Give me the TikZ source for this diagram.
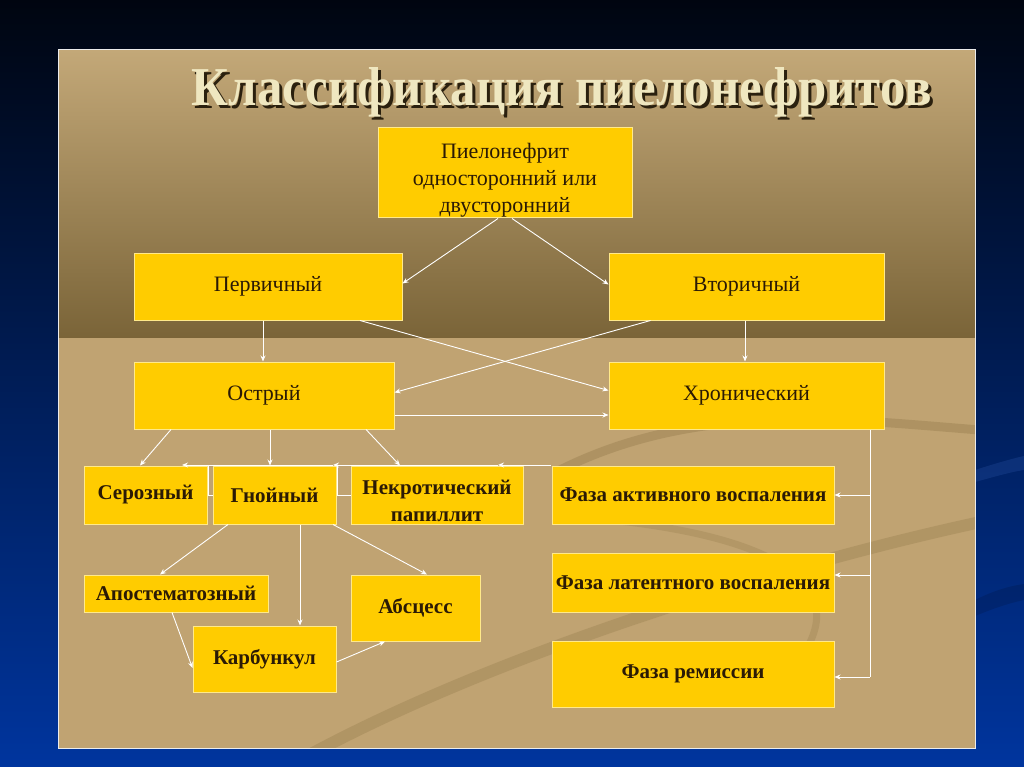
\documentclass[tikz,border=0pt]{standalone}
\usepackage{fontspec}
\usepackage{graphicx}
\setmainfont{Liberation Serif}
\usetikzlibrary{arrows.meta}
\definecolor{bgtop}{HTML}{000510}
\definecolor{bgbot}{HTML}{00359E}
\definecolor{tanlight}{HTML}{C3A878}
\definecolor{tandark}{HTML}{7A6438}
\definecolor{tanlow}{HTML}{C0A372}
\definecolor{boxfill}{HTML}{FFCC00}
\definecolor{boxline}{HTML}{FFE98A}
\definecolor{txt}{HTML}{2B1A05}
\definecolor{titlec}{HTML}{EFE7C0}
\definecolor{titlesh}{HTML}{2A200E}
\definecolor{swoosh}{HTML}{8E7546}
\newcommand{\mytitletext}{\resizebox{740pt}{38pt}{Классификация пиелонефритов}}
\begin{document}
\begin{tikzpicture}[x=1pt,y=-1pt,
  box/.style={draw=boxline, line width=1pt, fill=boxfill, text=txt, align=center,
    inner sep=2pt, font=\fontsize{22}{27}\selectfont},
  bbox/.style={box, font=\bfseries\fontsize{21}{27}\selectfont},
  boxtext/.style={text=txt, align=center, inner sep=0pt, font=\fontsize{22}{27}\selectfont},
  bboxtext/.style={boxtext, font=\bfseries\fontsize{21}{27}\selectfont},
  conn/.style={draw=white, line width=0.9pt},
  arr/.style={conn, -{Stealth[length=6pt,width=5pt]}},
]
\useasboundingbox (0,0) rectangle (1024,767);
% background
\shade[top color=bgtop, bottom color=bgbot] (0,0) rectangle (1024,767);
\fill[bgbot!80!white, opacity=0.25] (975,470) .. controls (1000,462) and (1015,458) .. (1024,456) -- (1024,470) .. controls (1010,472) and (990,478) .. (975,482) -- cycle;
\fill[black, opacity=0.12] (975,600) .. controls (995,590) and (1010,586) .. (1024,584) -- (1024,600) .. controls (1005,604) and (990,610) .. (975,616) -- cycle;
% panel
\shade[top color=tanlight, bottom color=tandark] (58,50) rectangle (975,338);
\fill[tanlow] (58,338) rectangle (975,748);
\begin{scope}
\clip (58,338) rectangle (975,748);
\draw[swoosh, opacity=0.35, line width=9pt, line cap=round] (560,470) .. controls (700,400) and (850,420) .. (980,430);
\draw[swoosh, opacity=0.30, line width=12pt, line cap=round] (300,760) .. controls (500,650) and (800,560) .. (990,520);
\draw[swoosh, opacity=0.25, line width=7pt, line cap=round] (610,520) .. controls (800,540) and (880,600) .. (760,700);
\end{scope}
\draw[white!85!gray, line width=1pt] (58,50) rectangle (975,748);
% title (with its shadow, in one node)
\node[font=\bfseries, text=titlec, anchor=base] (title) at (562,106)
  {\rlap{\hspace{3pt}\raisebox{-3pt}{\color{titlesh}\mytitletext}}\mytitletext};
% boxes
\node[box, minimum width=254pt, minimum height=90pt] (pie) at (505,173) {};
\node[boxtext] (pietext) at (505,180) {Пиелонефрит\\односторонний или\\двусторонний};
\node[box, minimum width=268pt, minimum height=67pt] (perv) at (268,286.5) {Первичный};
\node[box, minimum width=275pt, minimum height=67pt] (vtor) at (746.5,286.5) {Вторичный};
\node[box, minimum width=260pt, minimum height=67pt] (ostr) at (264,395.5) {Острый};
\node[box, minimum width=275pt, minimum height=67pt] (hron) at (746.5,395.5) {Хронический};
\node[bbox, minimum width=123pt, minimum height=58pt] (ser) at (145.5,495) {Серозный};
\node[bbox, minimum width=123pt, minimum height=58pt] (gno) at (274.5,495) {Гнойный};
\node[bbox, minimum width=172pt, minimum height=58pt] (nekr) at (437,495) {};
\node[bboxtext] (nekrtext) at (437,501) {Некротический\\папиллит};
\node[bbox, minimum width=282pt, minimum height=58pt] (faz1) at (693,495) {Фаза активного воспаления};
\node[bbox, minimum width=282pt, minimum height=59pt] (faz2) at (693,582.5) {Фаза латентного воспаления};
\node[bbox, minimum width=282pt, minimum height=66pt] (faz3) at (693,674) {Фаза ремиссии};
\node[bbox, minimum width=184pt, minimum height=37pt] (apo) at (176,593.5) {Апостематозный};
\node[bbox, minimum width=129pt, minimum height=66pt] (abs) at (415.5,608) {Абсцесс};
\node[bbox, minimum width=143pt, minimum height=66pt] (kar) at (264.5,659) {Карбункул};
% connectors top
\draw[arr] ([xshift=-7pt]pie.south) -- ([yshift=3pt]perv.east);
\draw[arr] ([xshift=7pt]pie.south) -- ([yshift=2pt]vtor.west);
\draw[arr] ([xshift=-5pt]perv.south) -- ([xshift=-1pt]ostr.north);
\draw[arr] ([xshift=-1.5pt]vtor.south) -- ([xshift=-1.5pt]hron.north);
\draw[arr] ([xshift=92pt]perv.south) -- ([yshift=5pt]hron.west);
\draw[arr] ([xshift=-96pt]vtor.south) -- ([yshift=3pt]ostr.east);
\draw[arr] ([yshift=-19.5pt]ostr.east) -- ([yshift=-19.5pt]hron.west);
% Острый children
\draw[arr] ([xshift=-93pt]ostr.south) -- ([xshift=-5.5pt]ser.north);
\draw[arr] ([xshift=6pt]ostr.south) -- ([xshift=-4.5pt]gno.north);
\draw[arr] ([xshift=102pt]ostr.south) -- ([xshift=-37pt]nekr.north);
% line along the tops of the second row
\coordinate (h0) at (551,465);
\coordinate (h1) at (498,465);
\coordinate (h2) at (333,465);
\coordinate (h3) at (182,465);
\draw[arr] (h0) -- (h1);
\draw[arr] (h1) -- (h2);
\draw[arr] (h2) -- (h3);
\coordinate (e1) at (208,465);
\coordinate (e2) at (337,465);
\draw[conn, line width=0.7pt] (e1) |- (gno.west);
\draw[conn, line width=0.7pt] (e2) |- (nekr.west);
% Хронический phases
\coordinate (trunk) at ([xshift=123.5pt]hron.south);
\coordinate (f2e) at ([yshift=7.5pt]faz2.east);
\coordinate (f3e) at ([yshift=-3pt]faz3.east);
\coordinate (tend) at (trunk |- f3e);
\draw[conn] (trunk) -- (tend);
\draw[arr] (trunk |- faz1.east) -- (faz1.east);
\draw[arr] (trunk |- f2e) -- (f2e);
\draw[arr] (tend) -- (f3e);
% Гнойный children
\draw[arr] ([xshift=-46.5pt]gno.south) -- ([xshift=-16pt]apo.north);
\draw[arr] ([xshift=25.5pt]gno.south) -- ([xshift=35.5pt]kar.north);
\draw[arr] ([xshift=58.5pt]gno.south) -- ([xshift=11.5pt]abs.north);
\draw[arr] ([xshift=-4pt]apo.south) -- ([yshift=-9pt]kar.west);
\draw[arr] ([yshift=-3pt]kar.east) -- ([xshift=-30.5pt]abs.south);
\end{tikzpicture}
\end{document}
